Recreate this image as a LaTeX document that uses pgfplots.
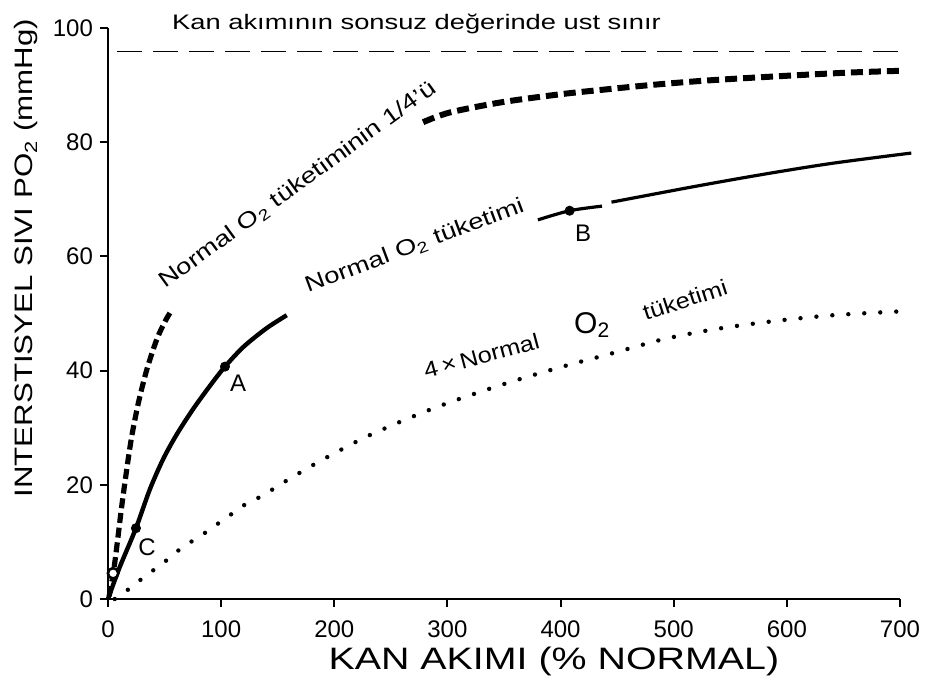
\documentclass[border=0pt]{standalone}
\usepackage{fontspec}
\setmainfont{Liberation Sans}
\usepackage{pgfplots}
\pgfplotsset{compat=1.18}
\begin{document}
\begin{tikzpicture}
\useasboundingbox (-54pt,-43.5pt) rectangle (413pt,299.5pt);
\begin{axis}[
  at={(0,0)}, anchor=south west,
  scale only axis, width=396pt, height=285.5pt,
  xmin=0, xmax=700, ymin=0, ymax=100,
  axis lines*=left,
  axis line style={line width=1.2pt, black},
  xtick={0,100,...,700}, ytick={0,20,...,100},
  tick align=outside, major tick length=4pt,
  tick style={line width=1pt, black},
  /pgf/number format/assume math mode=true,
  ticklabel style={font=\fontsize{12}{14}\selectfont},
  xticklabel style={yshift=-3.5pt},
  clip=false,
  xlabel={KAN AKIMI (\% NORMAL)},
  xlabel style={at={(axis description cs:0.563,-0.1243)}, anchor=base, font=\fontsize{15.5}{19}\selectfont, xscale=1.27},
  ylabel={INTERSTISYEL SIVI PO\textsubscript{2} (mmHg)},
  ylabel style={at={(axis description cs:-0.0947,0.597)}, anchor=base, font=\fontsize{12.6}{15}\selectfont, xscale=1.24},
]
% upper limit
\addplot[black, line width=0.8pt, dash pattern=on 12.5pt off 5.5pt] coordinates {(8,95.9) (703,95.9)};
% 1/4 normal consumption (lower part)
\addplot[black, line width=2.6pt, dash pattern=on 5pt off 2.4pt, smooth, tension=0.5] coordinates {
 (1,0.5) (4.7,4.5) (8.3,10) (12.1,16.2) (16.5,22.6) (20.9,28.4) (26.8,34.3) (34.2,40.1) (43,45.4) (50.4,48.6) (56.3,50.6)};
% 1/4 normal consumption (upper part)
\addplot[black, line width=3pt, dash pattern=on 6pt off 3pt, smooth, tension=0.5] coordinates {
 (278.5,83.5) (302,85.2) (348,87) (400,88.4) (438,89.2) (479,90) (529,90.8) (597,91.6) (656,92.2) (700,92.5)};
% normal consumption (lower part)
\addplot[black, line width=2.2pt, smooth, tension=0.5] coordinates {
 (0,0) (1.8,1) (10.6,5.7) (24.7,12.4) (37,19.2) (49,24.6) (61,28.9) (75,33.2) (90,37.3) (103.4,40.7) (120,44.2) (140,47.4) (158,49.7)};
% normal consumption (upper part)
\addplot[black, line width=1.6pt, smooth, tension=0.5] coordinates {
 (380,66.4) (408,68) (436.6,68.8)};
\addplot[black, line width=1.6pt, smooth, tension=0.5] coordinates {
 (445,69.5) (520,72.3) (580,74.4) (640,76.3) (710,78.1)};
% 4x normal consumption
\addplot[black, line width=2.2pt, line cap=round, dash pattern=on 0pt off 8pt, smooth, tension=0.5] coordinates {
 (6,0) (13.5,1) (23.9,2.6) (34.2,4.2) (45.4,5.8) (56.3,7.5) (66.6,9.2) (78.4,10.6) (90.2,12.2) (101.4,13.8) (112.3,15.3) (123.1,16.8) (133.7,17.8) (144.7,19.1) (155,20.4) (186,24) (224,28) (252,30.5) (280,32.8) (310,35) (354,37.9) (400,40.6) (447,43.1) (491,45.5) (538,47.3) (590,48.7) (641,49.7) (703,50.4)};
% points A, B, C
\addplot[only marks, mark=*, mark size=2.3pt, black] coordinates {(103.4,40.7) (408,68) (24.7,12.4)};
\addplot[only marks, mark=*, mark size=2.6pt, black, mark options={fill=white, line width=1.3pt}] coordinates {(4.5,4.5)};
% annotations
\node[anchor=base, font=\fontsize{10.5}{12}\selectfont, xscale=1.3] at (axis cs:272.7,99.8) {Kan akımının sonsuz değerinde ust sınır};
\node[rotate=36, xscale=1.25, font=\fontsize{11}{13}\selectfont] at (axis cs:168,72.5) {Normal O\textsubscript{2} tüketiminin 1/4'ü};
\node[rotate=20.5, xscale=1.25, font=\fontsize{11}{13}\selectfont] at (axis cs:271,61.8) {Normal O\textsubscript{2} tüketimi};
\node[rotate=15, xscale=1.15, font=\fontsize{11}{13}\selectfont] at (axis cs:330,42.6) {4\,×\,Normal};
\node[font=\fontsize{15}{17}\selectfont] at (axis cs:428,48) {O\textsubscript{2}};
\node[rotate=18, xscale=1.15, font=\fontsize{11}{13}\selectfont] at (axis cs:510,52.4) {tüketimi};
\node[font=\fontsize{12}{14}\selectfont] at (axis cs:115,37.8) {A};
\node[font=\fontsize{12}{14}\selectfont] at (axis cs:420,64.1) {B};
\node[font=\fontsize{12}{14}\selectfont] at (axis cs:34.5,9.1) {C};
\end{axis}
\end{tikzpicture}
\end{document}
